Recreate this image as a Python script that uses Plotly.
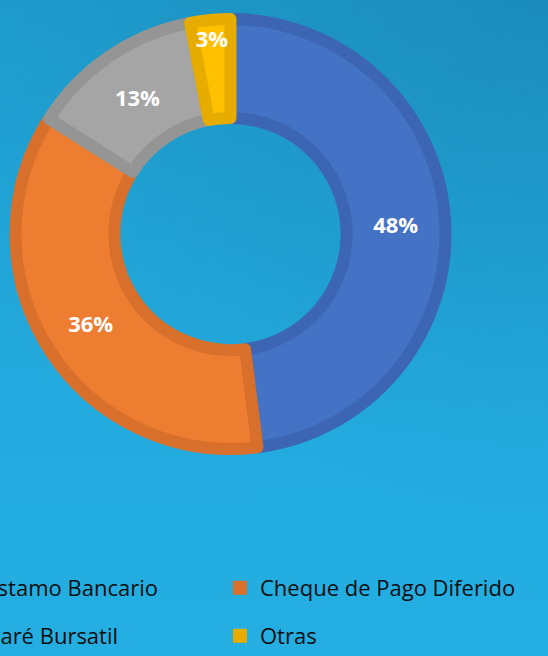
import plotly.graph_objects as go

# ---- data ----
categories = ["Préstamo Bancario", "Cheque de Pago Diferido", "Pagaré Bursatil", "Otras"]
shares = [48, 36, 13, 3]
fill_colors = ["#4472C4", "#ED7D31", "#A5A5A5", "#FFC000"]
edge_colors = ["#3C66B3", "#D8702B", "#959595", "#E6AD00"]
legend_ids = ["legend", "legend2", "legend3", "legend4"]

W, H = 548, 656

fig = go.Figure()

# background gradient (paper-filling rectangles on hidden axes)
fig.add_trace(go.Scatter(
    x=[0, 1, 1, 0, 0], y=[0, 0, 1, 1, 0], mode="lines", fill="toself",
    line=dict(width=0), hoverinfo="skip", showlegend=False,
    fillgradient=dict(type="vertical", start=0, stop=1,
                      colorscale=[[0, "#24AEE2"], [0.35, "#23ABDF"], [1, "#1E9BCC"]]),
))
# darker glow toward the top-right corner (box centred on that corner)
fig.add_trace(go.Scatter(
    x=[0, 2, 2, 0, 0], y=[0.2, 0.2, 1.8, 1.8, 0.2], mode="lines", fill="toself",
    line=dict(width=0), hoverinfo="skip", showlegend=False,
    fillgradient=dict(type="radial",
                      colorscale=[[0, "rgba(5,30,60,0.12)"], [1, "rgba(5,30,60,0)"]]),
))

# legend entries (one legend per entry so each can be placed freely)
for name, col, lg in zip(categories, edge_colors, legend_ids):
    fig.add_trace(go.Scatter(
        x=[None], y=[None], mode="markers", name=name, legend=lg,
        marker=dict(symbol="square", size=14, color=col, line=dict(width=0)),
        hoverinfo="skip",
    ))

fig.add_trace(go.Pie(
    labels=categories, values=shares, sort=False, direction="clockwise",
    rotation=0, hole=0.54,
    marker=dict(colors=fill_colors, line=dict(color=edge_colors, width=12)),
    textinfo="percent", textposition="inside", insidetextorientation="horizontal",
    textfont=dict(family="Open Sans", size=22, color="white", weight="bold"),
    domain=dict(x=[0.02828, 0.81296], y=[0.31555, 0.97104]),
    showlegend=False, hoverinfo="label+percent",
))

legend_common = dict(
    orientation="h", xanchor="left", yanchor="middle",
    font=dict(family="Open Sans", size=22, color="#0D0D0D"),
    bgcolor="rgba(0,0,0,0)", borderwidth=0,
)
col_x = [-77 / W, 220 / W]
row_y = [(H - 588) / H, (H - 636) / H]

fig.update_layout(
    width=W, height=H,
    margin=dict(l=0, r=0, t=0, b=0, autoexpand=False),
    paper_bgcolor="#24AEE2", plot_bgcolor="rgba(0,0,0,0)",
    xaxis=dict(range=[0, 1], visible=False, fixedrange=True, domain=[0, 1]),
    yaxis=dict(range=[0, 1], visible=False, fixedrange=True, domain=[0, 1]),
    uniformtext=dict(minsize=22, mode="show"),
    legend=dict(x=col_x[0], y=row_y[0], **legend_common),
    legend2=dict(x=col_x[1], y=row_y[0], **legend_common),
    legend3=dict(x=col_x[0], y=row_y[1], **legend_common),
    legend4=dict(x=col_x[1], y=row_y[1], **legend_common),
    showlegend=True,
)

fig.write_html("out.html")
